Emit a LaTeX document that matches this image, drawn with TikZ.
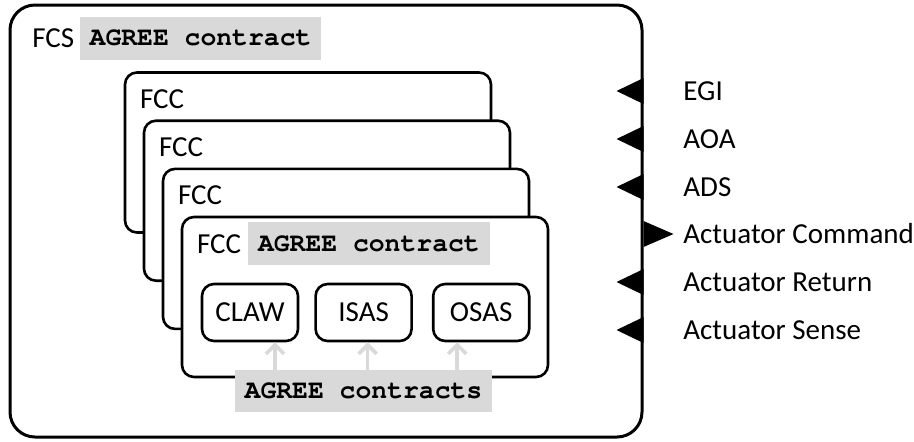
\documentclass[tikz,border=0pt]{standalone}
\usepackage{fontspec}
\setmainfont{Carlito}
\newcommand\codefont{\fontencoding{OT1}\fontfamily{pcr}\fontseries{b}\selectfont}
\usetikzlibrary{positioning,arrows.meta}
\definecolor{contractgray}{HTML}{D9D9D9}

\begin{document}
\begin{tikzpicture}[x=0.5pt,y=-0.5pt,
sysbox/.style={draw,line width=1.5pt,rounded corners=12.5pt,minimum width=316pt,minimum height=216pt},
fccbox/.style={draw,fill=white,line width=1.3pt,rounded corners=6pt,minimum width=183pt,minimum height=80pt},
subbox/.style={draw,line width=1.3pt,rounded corners=6pt,minimum width=48pt,minimum height=28.5pt,inner sep=0pt,font=\fontsize{14.5}{16}\selectfont},
contract/.style={fill=contractgray,inner sep=0pt,minimum height=21.5pt,font=\codefont\fontsize{13.2}{15}\selectfont},
lbl/.style={inner sep=0pt,anchor=west,font=\fontsize{14.5}{16}\selectfont},
dep/.style={draw=contractgray,line width=1.8pt,-{Straight Barb[length=4.5pt,width=9pt]}}]
\useasboundingbox (0,0) rectangle (914,441);

\node (fcs) [sysbox] at (326,221) {};
\node (fcslbl) [lbl] at (32,38) {FCS};
\node (fcscon) [contract,minimum width=120.5pt,right=2.5pt of fcslbl] {AGREE contract};

\foreach \i in {1,2,3} {
  \node (fcc\i) [fccbox] at ({308+19*(\i-1)},{152.5+48.2*(\i-1)}) {};
  \node (fcclbl\i) [lbl] at ([xshift=8pt,yshift=-14pt]fcc\i.north west) {FCC};
}
\node (fcc4) [fccbox] at (365,297) {};
\node (fcclbl4) [lbl] at ([xshift=8pt,yshift=-14pt]fcc4.north west) {FCC};
\node (fcccon) [contract,minimum width=121pt,right=3pt of fcclbl4] {AGREE contract};

\node (claw) [subbox] at (250,312.5) {CLAW};
\node (isas) [subbox,right=7.5pt of claw] {ISAS};
\node (osas) [subbox,right=9.5pt of isas] {OSAS};

\node (agreeall) [contract,minimum width=128.5pt,minimum height=21pt] at (363.5,391) {AGREE contracts};
\foreach \sub/\dx in {claw/12.5pt,isas/2pt,osas/-12pt} {
  \coordinate (\sub-tip) at ([xshift=\dx]\sub.south);
  \draw[dep] (agreeall.north -| \sub-tip) -- (\sub-tip);
}

\foreach \py/\pname/\tx [count=\i] in {91/EGI/-13.5pt,139/AOA/-13.5pt,187/ADS/-13.5pt,234/Actuator Command/15pt,282/Actuator Return/-13.5pt,330/Actuator Sense/-13.5pt} {
  \coordinate (pb\i) at (fcs.east |- 0,\py);
  \fill ([yshift=6.5pt]pb\i) -- ([xshift=\tx]pb\i) -- ([yshift=-6.5pt]pb\i) -- cycle;
  \node (port\i) [lbl] at (683,\py) {\pname};
}
\end{tikzpicture}
\end{document}
